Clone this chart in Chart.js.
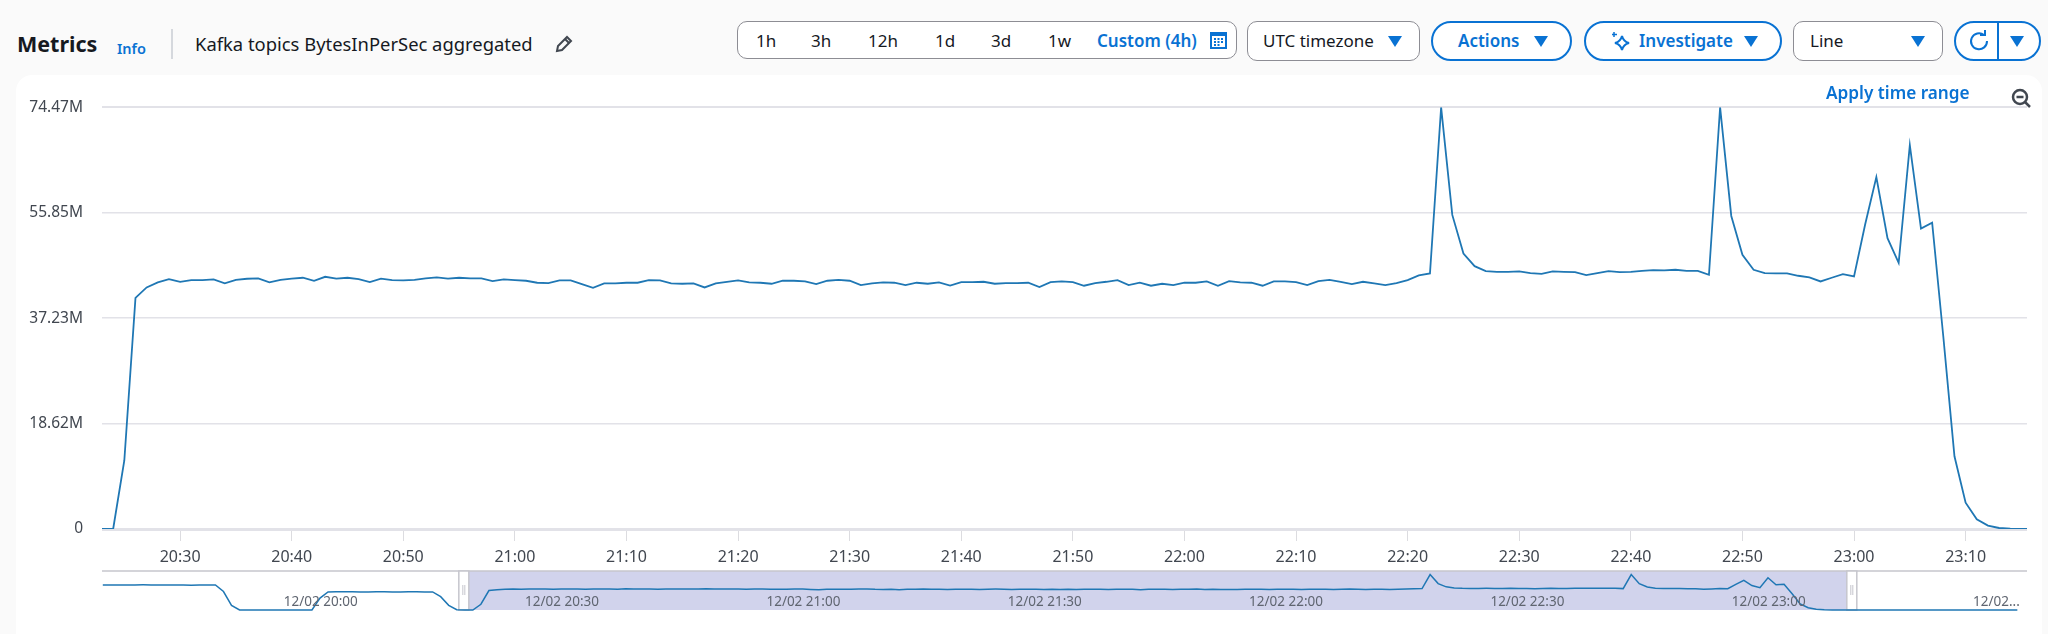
<!DOCTYPE html>
<html>
<head>
<meta charset="utf-8">
<title>Kafka topics BytesInPerSec aggregated</title>
<script src="https://cdn.jsdelivr.net/npm/chart.js@4"></script>
<style>
  html, body { margin: 0; padding: 0; width: 2048px; height: 634px; overflow: hidden; background: #fafafa; font-family: "Noto Sans", sans-serif; color: #16191f; }
  .abs { position: absolute; white-space: nowrap; }
  .blue { color: #0972d3; font-weight: 600; }
  .box { box-sizing: border-box; border: 1.5px solid #8d8d94; border-radius: 10px; background: #fff; }
  .pill { box-sizing: border-box; border: 2.5px solid #0972d3; border-radius: 20px; background: #fff; }
  .t { font-size: 17px; line-height: 24px; top: 29px; }
  #panel { position: absolute; left: 16px; top: 75px; width: 2026px; height: 559px; background: #fff; border-radius: 16px 16px 0 0; }
  canvas { position: absolute; }
</style>
</head>
<body>
<div id="panel"></div>

<div class="abs" style="left:17px;top:28px;font-size:21.5px;line-height:32px;font-weight:700;">Metrics</div>
<div class="abs blue" style="left:117px;top:37px;font-size:14.5px;line-height:22px;">Info</div>
<div class="abs" style="left:171px;top:29px;width:2px;height:30px;background:#d5d8dd;"></div>
<div class="abs" style="left:195px;top:30px;font-size:18.4px;line-height:28px;">Kafka topics BytesInPerSec aggregated</div>
<svg class="abs" style="left:555px;top:35px" width="18" height="18" viewBox="0 0 18 18" fill="none" stroke="#414750" stroke-width="2"><path d="M2 16l1-5L12 2l4 4-9 9z"/><path d="M10 4l4 4"/></svg>

<div class="abs box" style="left:737px;top:21px;width:500px;height:38px;"></div>
<div class="abs t" style="left:756px;">1h</div>
<div class="abs t" style="left:811px;">3h</div>
<div class="abs t" style="left:868px;">12h</div>
<div class="abs t" style="left:935px;">1d</div>
<div class="abs t" style="left:991px;">3d</div>
<div class="abs t" style="left:1048px;">1w</div>
<div class="abs t blue" style="left:1097px;">Custom (4h)</div>
<svg class="abs" style="left:1210px;top:32px" width="17" height="17" viewBox="0 0 17 17"><rect width="17" height="17" fill="#0972d3"/><g fill="#fff"><rect x="2" y="4" width="13" height="11"/></g><g fill="#0972d3"><rect x="4" y="6" width="2" height="2"/><rect x="7.5" y="6" width="2" height="2"/><rect x="11" y="6" width="2" height="2"/><rect x="4" y="9" width="2" height="2"/><rect x="7.5" y="9" width="2" height="2"/><rect x="11" y="9" width="2" height="2"/><rect x="4" y="12" width="2" height="2"/><rect x="7.5" y="12" width="2" height="2"/></g></svg>

<div class="abs box" style="left:1247px;top:21px;width:173px;height:40px;"></div>
<div class="abs t" style="left:1263px;">UTC timezone</div>
<svg class="abs caret" style="left:1388px;top:36px" width="14" height="11" viewBox="0 0 14 11"><path d="M0 0h14L7 11z" fill="#0972d3"/></svg>

<div class="abs pill" style="left:1431px;top:21px;width:141px;height:40px;"></div>
<div class="abs t blue" style="left:1458px;">Actions</div>
<svg class="abs" style="left:1534px;top:36px" width="14" height="11" viewBox="0 0 14 11"><path d="M0 0h14L7 11z" fill="#0972d3"/></svg>

<div class="abs pill" style="left:1584px;top:21px;width:198px;height:40px;"></div>
<svg class="abs" style="left:1611px;top:31px" width="20" height="21" viewBox="0 0 20 21" fill="none" stroke="#0972d3" stroke-width="2"><path d="M11 5c1 4 3 6 7 7-4 1-6 3-7 7-1-4-3-6-7-7 4-1 6-3 7-7z"/><path d="M3 1v5M1 3.500h5" stroke-width="1.500"/></svg>
<div class="abs t blue" style="left:1639px;">Investigate</div>
<svg class="abs" style="left:1744px;top:36px" width="14" height="11" viewBox="0 0 14 11"><path d="M0 0h14L7 11z" fill="#0972d3"/></svg>

<div class="abs box" style="left:1793px;top:21px;width:150px;height:40px;"></div>
<div class="abs t" style="left:1810px;">Line</div>
<svg class="abs" style="left:1911px;top:36px" width="14" height="11" viewBox="0 0 14 11"><path d="M0 0h14L7 11z" fill="#0972d3"/></svg>

<div class="abs pill" style="left:1954px;top:21px;width:87px;height:40px;"></div>
<div class="abs" style="left:1997px;top:22px;width:2px;height:38px;background:#0972d3;"></div>
<svg class="abs" style="left:1968px;top:30px" width="21" height="22" viewBox="0 0 21 22" fill="none" stroke="#0972d3" stroke-width="2"><path d="M16 5a8 8 0 1 0 3 6"/><path d="M12 5h5V0"/></svg>
<svg class="abs" style="left:2010px;top:36px" width="14" height="11" viewBox="0 0 14 11"><path d="M0 0h14L7 11z" fill="#0972d3"/></svg>

<canvas id="mainChart" width="2048" height="491" style="left:0;top:79px;"></canvas>
<canvas id="overviewChart" width="2048" height="60" style="left:0;top:560px;"></canvas>

<div class="abs blue" style="left:1826px;top:81px;font-size:17.2px;line-height:24px;">Apply time range</div>
<svg class="abs" style="left:2011px;top:88px" width="21" height="20" viewBox="0 0 21 20" fill="none" stroke="#414750" stroke-width="2.500"><circle cx="9" cy="9" r="7"/><path d="M5.500 9h7M14 14l5 5"/></svg>

<script>
// minutes since midnight for the first point of each series
var mainStart = 20 * 60 + 23;
var overviewStart = 19 * 60 + 38;

// MBytes per minute, 20:23 to 23:16
var values = [
  0, 0, 12.1, 40.8, 42.66, 43.55, 44.13, 43.66, 43.96, 43.96, 44.07, 43.37, 44.0, 44.19, 44.25, 43.55, 44.0, 44.2, 44.37, 43.84,
  44.54, 44.2, 44.37, 44.13, 43.6, 44.2, 43.96, 43.9, 44.0, 44.25, 44.43, 44.2, 44.37, 44.25, 44.25, 43.78, 44.07, 43.96, 43.84, 43.49,
  43.43, 43.9, 43.9, 43.25, 42.6, 43.37, 43.37, 43.49, 43.49, 43.96, 43.9, 43.37, 43.31, 43.37, 42.66, 43.37, 43.66,
  43.9, 43.55, 43.49, 43.31, 43.84, 43.84, 43.72, 43.25, 43.84, 44.0, 43.84, 43.07, 43.37, 43.55, 43.49, 43.07, 43.49, 43.31, 43.55, 43.0,
  43.6, 43.6, 43.66, 43.31, 43.43, 43.43, 43.49, 42.72, 43.6, 43.72, 43.6, 42.96, 43.43, 43.66, 43.96, 43.07, 43.49, 42.96, 43.31, 43.07,
  43.49, 43.49, 43.72, 42.96, 43.78, 43.55, 43.49, 42.96, 43.72, 43.72, 43.6, 43.07, 43.78, 44.0, 43.66, 43.25, 43.66, 43.37, 43.07, 43.43,
  43.96, 44.78, 45.13,
  74.47, 55.46, 48.65, 46.42, 45.54, 45.42, 45.42, 45.48, 45.19, 45.07, 45.48, 45.42, 45.36, 44.84, 45.19, 45.54, 45.36, 45.42, 45.6, 45.72,
  45.66, 45.78, 45.6, 45.6, 44.9,
  74.47, 55.28, 48.42, 45.78, 45.19, 45.13, 45.13, 44.72, 44.43, 43.72, 44.37, 45.01, 44.6,
  53.82, 62.15, 51.35, 47.0, 67.8, 53.05, 54.1, 34.0, 12.85, 4.64, 1.7, 0.59, 0.18, 0.06, 0, 0
];
// the navigator also shows the minutes around the selected window
var valuesBefore = [
  52.5, 52.6, 52.6, 52.5, 52.6, 52.8, 52.7, 52.6, 52.5, 52.4, 52.3, 52.2, 52.3, 52.4, 52.6, 38.8, 9.8,
  0, 0, 0, 0, 0, 0, 0, 0, 0, 0, 25,
  38, 38.1, 38.2, 38.1, 38, 38, 38.1, 38.1, 38, 38, 38.1, 38.1, 38, 38, 28, 9.8, 0.6
];
var valuesAfter = [0, 0, 0, 0, 0, 0, 0, 0, 0, 0, 0, 0, 0, 0, 0, 0, 0, 0, 0, 0];

var yTicks = [0, 18.62, 37.23, 55.85, 74.47];
var yTickLabels = ['0', '18.62M', '37.23M', '55.85M', '74.47M'];
var xTickLabels = ['20:30', '20:40', '20:50', '21:00', '21:10', '21:20', '21:30', '21:40', '21:50', '22:00', '22:10', '22:20', '22:30', '22:40', '22:50', '23:00', '23:10'];
var overviewTicks = ['20:00', '20:30', '21:00', '21:30', '22:00', '22:30', '23:00', '23:30'];
var overviewTickLabels = ['12/02 20:00', '12/02 20:30', '12/02 21:00', '12/02 21:30', '12/02 22:00', '12/02 22:30', '12/02 23:00', '12/02...'];

function toMinutes(s) {
  var p = s.split(':');
  return parseInt(p[0]) * 60 + parseInt(p[1]);
}
function toPoints(list, start) {
  return list.map(function (v, i) { return { x: start + i, y: v }; });
}

var lineColor = '#1f77b4';
var textColor = '#414750';

new Chart(document.getElementById('mainChart'), {
  type: 'line',
  data: {
    datasets: [{
      data: toPoints(values, mainStart),
      borderColor: lineColor,
      borderWidth: 1.8,
      pointRadius: 0,
      tension: 0
    }]
  },
  options: {
    responsive: false,
    animation: false,
    plugins: { legend: { display: false }, tooltip: { enabled: false } },
    layout: { padding: { right: 21 } },
    scales: {
      x: {
        type: 'linear',
        min: mainStart,
        max: mainStart + 172.5,
        afterBuildTicks: function (axis) {
          axis.ticks = xTickLabels.map(function (s) { return { value: toMinutes(s) }; });
        },
        afterFit: function (axis) { axis.height = 41; },
        border: { display: false },
        grid: { drawOnChartArea: false, color: '#dcdce0', tickLength: 12, lineWidth: 1 },
        ticks: {
          autoSkip: false, maxRotation: 0, minRotation: 0, padding: 7,
          color: textColor, font: { family: 'Noto Sans', size: 16 },
          callback: function (v, i) { return xTickLabels[i]; }
        }
      },
      y: {
        min: 0,
        max: 74.47,
        afterBuildTicks: function (axis) {
          axis.ticks = yTicks.map(function (v) { return { value: v }; });
        },
        afterFit: function (axis) { axis.width = 102; },
        border: { display: false },
        grid: {
          drawTicks: false,
          color: '#e2e2e8',
          lineWidth: function (ctx) { return ctx.index === 0 ? 3 : (ctx.index === 4 ? 2 : 1.5); }
        },
        ticks: {
          padding: 19,
          color: textColor, font: { family: 'Noto Sans', size: 15.5 },
          callback: function (v, i) { return yTickLabels[i]; }
        }
      }
    }
  }
});

// selected window of the navigator, in minutes
var brushFrom = 20 * 60 + 23.5;
var brushTo = 23 * 60 + 14.8;

var brushPlugin = {
  id: 'brush',
  beforeDatasetsDraw: function (chart) {
    var c = chart.ctx, a = chart.chartArea, sx = chart.scales.x;
    var x0 = sx.getPixelForValue(brushFrom), x1 = sx.getPixelForValue(brushTo);
    c.save();
    c.fillStyle = '#d1d3ec';
    c.fillRect(x0, a.top, x1 - x0, a.bottom - a.top);
    c.strokeStyle = '#c6c6cd';
    c.lineWidth = 1.5;
    c.beginPath();
    c.moveTo(a.left, a.top);
    c.lineTo(a.right, a.top);
    c.stroke();
    [x0 - 10, x1].forEach(function (x) {
      c.fillStyle = '#fff';
      c.fillRect(x, a.top, 10, a.bottom - a.top);
      c.strokeRect(x, a.top, 10, a.bottom - a.top);
      c.fillStyle = '#c6c6cd';
      c.fillRect(x + 3.5, a.top + 14, 1, 10);
      c.fillRect(x + 5.5, a.top + 14, 1, 10);
    });
    c.restore();
  }
};

new Chart(document.getElementById('overviewChart'), {
  type: 'line',
  data: {
    datasets: [{
      data: toPoints(valuesBefore.concat(values, valuesAfter), overviewStart),
      borderColor: lineColor,
      borderWidth: 1.5,
      pointRadius: 0,
      tension: 0,
      clip: false
    }]
  },
  plugins: [brushPlugin],
  options: {
    responsive: false,
    animation: false,
    plugins: { legend: { display: false }, tooltip: { enabled: false } },
    layout: { padding: { left: 102, right: 21, top: 11, bottom: 10 } },
    scales: {
      x: {
        type: 'linear',
        min: overviewStart - 0.1,
        max: overviewStart + 239.2,
        afterBuildTicks: function (axis) {
          axis.ticks = overviewTicks.map(function (s) { return { value: toMinutes(s) }; });
        },
        afterFit: function (axis) { axis.height = 0; },
        border: { display: false },
        grid: { display: false },
        ticks: {
          // mirror keeps the labels from being clipped to the zero height axis box
          autoSkip: false, maxRotation: 0, minRotation: 0, align: 'start', labelOffset: 4, mirror: true, padding: 0, z: 1,
          color: '#5f6570', font: { family: 'Noto Sans', size: 13.5 },
          callback: function (v, i) { return overviewTickLabels[i]; }
        }
      },
      y: { display: false, min: 0, max: 74.47 * 1.1 }
    }
  }
});
</script>
</body>
</html>
